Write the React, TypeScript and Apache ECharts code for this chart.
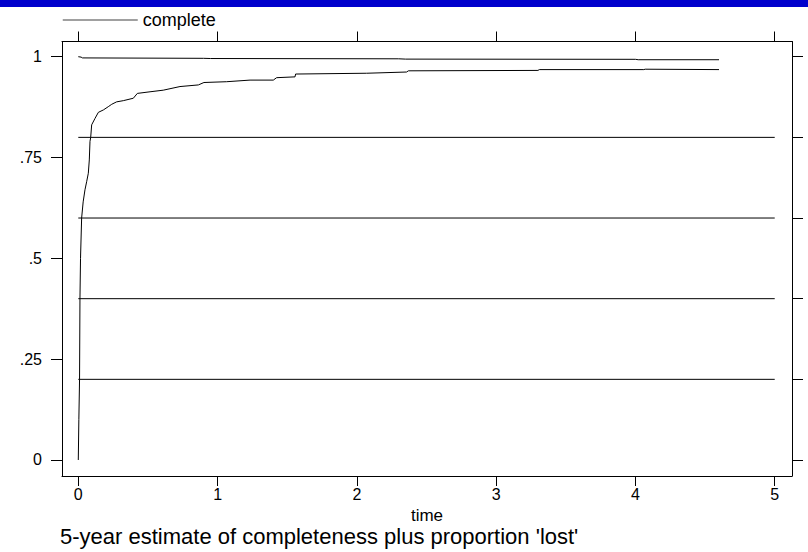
import React, { useEffect, useRef } from "react";
import * as echarts from "echarts";

const xTickValues = [0, 1, 2, 3, 4, 5];
const yTickValues = [0, 0.25, 0.5, 0.75, 1];
const yTickLabels = ["0", ".25", ".5", ".75", "1"];
const rightTickValues = [0, 0.2, 0.4, 0.6, 0.8, 1];
const refLevels = [0.2, 0.4, 0.6, 0.8];

const completeTime = [
  0, 0.004, 0.009, 0.012, 0.016, 0.024, 0.035, 0.048, 0.06, 0.072, 0.079, 0.084,
  0.089, 0.096, 0.12, 0.144, 0.18, 0.215, 0.24, 0.275, 0.323, 0.395, 0.424, 0.515,
  0.61, 0.73, 0.862, 0.902, 1.065, 1.233, 1.4, 1.424, 1.556, 1.56, 2.07, 2.357,
  2.37, 3.3, 3.31, 4.06, 4.07, 4.6,
];
const completeValue = [
  0, 0.1, 0.2, 0.4, 0.5, 0.6, 0.64, 0.67, 0.69, 0.711, 0.744, 0.79,
  0.8, 0.831, 0.847, 0.862, 0.868, 0.876, 0.882, 0.888, 0.891, 0.897, 0.909, 0.913,
  0.917, 0.926, 0.93, 0.936, 0.938, 0.942, 0.942, 0.948, 0.95, 0.957, 0.959, 0.962,
  0.965, 0.966, 0.968, 0.968, 0.969, 0.968,
];

const lostTime = [0, 0.02, 0.03, 0.9, 0.95, 2.3, 2.35, 4.0, 4.02, 4.6];
const lostValue = [1.0, 0.999, 0.997, 0.996, 0.9955, 0.9948, 0.994, 0.9935, 0.9925, 0.9925];

const FONT = "Liberation Sans";

export default function App() {
  const ref = useRef<HTMLDivElement>(null);
  useEffect(() => {
    if (!ref.current) return;
    const chart = echarts.init(ref.current, undefined, { renderer: "svg" });
    const refSeries = refLevels.map((lv, i) => ({
      name: "ref" + i,
      type: "line",
      symbol: "none",
      silent: true,
      data: [
        [0, lv],
        [5, lv],
      ],
      lineStyle: { color: "#000", width: 1 },
    }));
    const yFmt = (v: number) => {
      const idx = yTickValues.findIndex((t) => Math.abs(t - v) < 1e-9);
      return idx >= 0 ? yTickLabels[idx] : "";
    };
    const axisLine = { show: true, onZero: false, lineStyle: { color: "#000", width: 1 } };
    chart.setOption({
      animation: false,
      textStyle: { fontFamily: FONT },
      title: {
        text: "5-year estimate of completeness plus proportion 'lost'",
        left: 60,
        top: 525,
        padding: 0,
        textStyle: { fontSize: 22, lineHeight: 22, fontWeight: "normal", color: "#000", fontFamily: FONT },
      },
      legend: {
        data: ["complete"],
        left: 62,
        top: 11,
        padding: 0,
        itemWidth: 75,
        itemHeight: 14,
        textStyle: { fontSize: 18, color: "#000", fontFamily: FONT },
        lineStyle: { color: "#808080", width: 1.5, opacity: 1 },
        itemStyle: { opacity: 0 },
      },
      graphic: [
        {
          type: "rect",
          shape: { x: 0, y: 0, width: 808, height: 7 },
          style: { fill: "#0000CC" },
          silent: true,
        },
      ],
      grid: { left: 62, right: 16, top: 41.5, bottom: 76 },
      xAxis: [
        {
          type: "value",
          position: "bottom",
          min: -0.117,
          max: 5.124,
          name: "time",
          nameLocation: "middle",
          nameGap: 27,
          nameTextStyle: { fontSize: 17, lineHeight: 17, color: "#000", fontFamily: FONT },
          axisLine,
          axisTick: { show: true, inside: false, length: 10, customValues: xTickValues, lineStyle: { color: "#000" } },
          axisLabel: { show: true, customValues: xTickValues, margin: 10, fontSize: 16, color: "#000", fontFamily: FONT },
          splitLine: { show: false },
        },
        {
          type: "value",
          position: "top",
          min: -0.117,
          max: 5.124,
          axisLine,
          axisTick: { show: true, inside: false, length: 10, customValues: xTickValues, lineStyle: { color: "#000" } },
          axisLabel: { show: false },
          splitLine: { show: false },
        },
      ],
      yAxis: [
        {
          type: "value",
          position: "left",
          min: -0.0397,
          max: 1.0377,
          axisLine,
          axisTick: { show: true, inside: false, length: 11, customValues: yTickValues, lineStyle: { color: "#000" } },
          axisLabel: { show: true, customValues: yTickValues, formatter: yFmt, margin: 20, fontSize: 16, color: "#000", fontFamily: FONT },
          splitLine: { show: false },
        },
        {
          type: "value",
          position: "right",
          min: -0.0397,
          max: 1.0377,
          axisLine,
          axisTick: { show: true, inside: false, length: 11, customValues: rightTickValues, lineStyle: { color: "#000" } },
          axisLabel: { show: false },
          splitLine: { show: false },
        },
      ],
      series: [
        {
          name: "complete",
          type: "line",
          symbol: "none",
          data: completeTime.map((t, i) => [t, completeValue[i]]),
          lineStyle: { color: "#000", width: 1 },
        },
        {
          name: "complete + lost",
          type: "line",
          symbol: "none",
          data: lostTime.map((t, i) => [t, lostValue[i]]),
          lineStyle: { color: "#000", width: 1 },
        },
        ...refSeries,
      ],
    });
    return () => chart.dispose();
  }, []);
  return (
    <div
      ref={ref}
      style={{ position: "absolute", left: 0, top: 0, width: 808, height: 552, background: "#fff" }}
    />
  );
}
